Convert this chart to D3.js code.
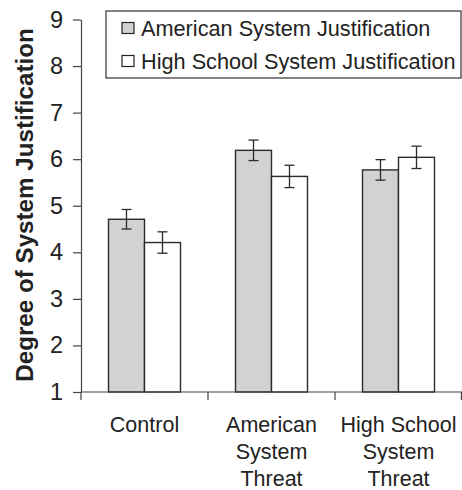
<!DOCTYPE html>
<html>
<head>
<meta charset="utf-8">
<script src="https://cdn.jsdelivr.net/npm/d3@7"></script>
<style>
  body { margin: 0; background: #fff; }
  svg { display: block; font-family: "Liberation Sans", Arial, sans-serif; }
</style>
</head>
<body>
<svg></svg>
<script>
var w = 462, h = 490;

// data
var conditions = ["Control", "American System Threat", "High School System Threat"];
var conditionLines = [["Control"], ["American", "System", "Threat"], ["High School", "System", "Threat"]];
var seriesNames = ["American System Justification", "High School System Justification"];
var americanMeans = [4.71, 6.19, 5.77];
var americanErr = [0.21, 0.22, 0.22];
var highSchoolMeans = [4.21, 5.63, 6.04];
var highSchoolErr = [0.23, 0.24, 0.24];
var yTicks = [1, 2, 3, 4, 5, 6, 7, 8, 9];

var fills = ["#d1d2d4", "#ffffff"];

var margin = {top: 19.5, left: 81, right: 0, bottom: 98};

var svg = d3.select("svg")
  .attr("width", w)
  .attr("height", h);

var x0 = d3.scaleBand()
  .domain(conditions)
  .range([margin.left, w])
  .paddingInner(0)
  .paddingOuter(0);

// two bars in the middle of each category, ~36px each
var x1 = d3.scaleBand()
  .domain([0, 1])
  .range([0, x0.bandwidth()])
  .paddingInner(0)
  .paddingOuter(0.764);

var y = d3.scaleLinear()
  .domain([1, 9])
  .range([392, margin.top]);

var rows = [];
conditions.forEach(function(c, i) {
  rows.push({cond: c, s: 0, v: americanMeans[i], e: americanErr[i]});
  rows.push({cond: c, s: 1, v: highSchoolMeans[i], e: highSchoolErr[i]});
});

// bars
svg.append("g")
  .selectAll("rect")
  .data(rows)
  .enter()
  .append("rect")
  .attr("x", function(d) { return x0(d.cond) + x1(d.s); })
  .attr("y", function(d) { return y(d.v); })
  .attr("width", x1.bandwidth())
  .attr("height", function(d) { return y(1) - y(d.v); })
  .attr("fill", function(d) { return fills[d.s]; })
  .attr("stroke", "#2b2b2b")
  .attr("stroke-width", 1.4);

// error bars
var eb = svg.append("g")
  .attr("stroke", "#2b2b2b")
  .attr("stroke-width", 1.3)
  .selectAll("g")
  .data(rows)
  .enter()
  .append("g")
  .attr("transform", function(d) {
    return "translate(" + (x0(d.cond) + x1(d.s) + x1.bandwidth() / 2) + ",0)";
  });
eb.append("line")
  .attr("y1", function(d) { return y(d.v + d.e); })
  .attr("y2", function(d) { return y(d.v - d.e); });
eb.append("line")
  .attr("x1", -5).attr("x2", 5)
  .attr("y1", function(d) { return y(d.v + d.e); })
  .attr("y2", function(d) { return y(d.v + d.e); });
eb.append("line")
  .attr("x1", -5).attr("x2", 5)
  .attr("y1", function(d) { return y(d.v - d.e); })
  .attr("y2", function(d) { return y(d.v - d.e); });

// y axis
var yAxis = svg.append("g")
  .attr("transform", "translate(" + margin.left + ",0)")
  .call(d3.axisLeft(y).tickValues(yTicks).tickSize(8).tickPadding(10).tickSizeOuter(0));
yAxis.select(".domain").attr("stroke", "#444").attr("stroke-width", 1.2);
yAxis.selectAll(".tick line").attr("stroke", "#444").attr("stroke-width", 1.2);
yAxis.selectAll(".tick text")
  .attr("font-size", 23.5)
  .attr("fill", "#222")
  .style("font-family", "'Liberation Sans', Arial, sans-serif");

// x axis
var xAxis = svg.append("g")
  .attr("transform", "translate(0," + y(1) + ")");
xAxis.append("line")
  .attr("x1", margin.left).attr("x2", w)
  .attr("stroke", "#444").attr("stroke-width", 1.2);
xAxis.selectAll(".xtick")
  .data(conditions.concat(["end"]))
  .enter()
  .append("line")
  .attr("class", "xtick")
  .attr("x1", function(d, i) { return i < conditions.length ? x0(d) : w - 0.6; })
  .attr("x2", function(d, i) { return i < conditions.length ? x0(d) : w - 0.6; })
  .attr("y1", 0).attr("y2", 8)
  .attr("stroke", "#444").attr("stroke-width", 1.2);

var xl = xAxis.selectAll(".xlab")
  .data(conditions)
  .enter()
  .append("text")
  .attr("class", "xlab")
  .attr("text-anchor", "middle")
  .attr("font-size", 21.5)
  .attr("fill", "#222")
  .attr("transform", function(d) { return "translate(" + (x0(d) + x0.bandwidth() / 2) + ",0)"; });
xl.selectAll("tspan")
  .data(function(d, i) { return conditionLines[i]; })
  .enter()
  .append("tspan")
  .attr("x", 0)
  .attr("y", function(d, i) { return 40 + i * 27; })
  .text(function(d) { return d; });

// y title
svg.append("text")
  .attr("transform", "translate(32.5,205) rotate(-90)")
  .attr("text-anchor", "middle")
  .attr("font-size", 24.2)
  .attr("font-weight", "bold")
  .attr("fill", "#222")
  .text("Degree of System Justification");

// legend
var legend = svg.append("g").attr("transform", "translate(106,11)");
legend.append("rect")
  .attr("width", 355).attr("height", 67)
  .attr("fill", "#fff")
  .attr("stroke", "#333").attr("stroke-width", 1.2);
var li = legend.selectAll(".item")
  .data(seriesNames)
  .enter()
  .append("g")
  .attr("class", "item")
  .attr("transform", function(d, i) { return "translate(0," + (24.5 + i * 33) + ")"; });
li.append("rect")
  .attr("x", 16).attr("y", -13)
  .attr("width", 12).attr("height", 11)
  .attr("fill", function(d, i) { return fills[i]; })
  .attr("stroke", "#222").attr("stroke-width", 1.2);
li.append("text")
  .attr("x", 35).attr("y", 0)
  .attr("font-size", 21.7)
  .attr("fill", "#222")
  .text(function(d) { return d; });
</script>
</body>
</html>
